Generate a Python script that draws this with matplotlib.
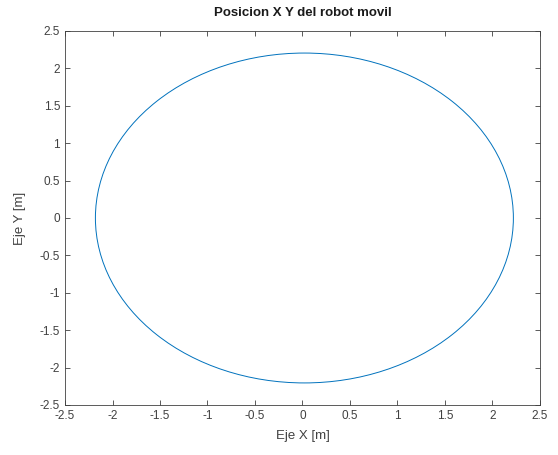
import numpy as np
import matplotlib
matplotlib.use("Agg")
import matplotlib.pyplot as plt
from matplotlib.patches import Ellipse

# trayectoria del robot (circulo)
centro_x = 0.02
centro_y = 0.0
ancho = 4.40   # diametro en X [m]
alto = 4.41    # diametro en Y [m]

ticks = [-2.5, -2, -1.5, -1, -0.5, 0, 0.5, 1, 1.5, 2, 2.5]
tick_labels = ["-2.5", "-2", "-1.5", "-1", "-0.5", "0", "0.5", "1", "1.5", "2", "2.5"]

plt.rcParams['font.family'] = ['Liberation Sans', 'DejaVu Sans']

fig = plt.figure(figsize=(5.58, 4.55), dpi=100)
ax = fig.add_axes([0.1165, 0.1099, 0.8512, 0.822])

traj = Ellipse((centro_x, centro_y), ancho, alto, fill=False,
               edgecolor='#0072BD', linewidth=0.7)
ax.add_patch(traj)

ax.set_xlim(-2.5, 2.5)
ax.set_ylim(-2.5, 2.5)
ax.set_xticks(ticks)
ax.set_xticklabels(tick_labels)
ax.set_yticks(ticks)
ax.set_yticklabels(tick_labels)

ax.tick_params(direction='in', top=True, right=True, length=3.5, width=0.6,
               colors='#404040', labelsize=8.5, labelcolor='#404040')
for s in ax.spines.values():
    s.set_color('#404040')
    s.set_linewidth(0.6)

ax.set_title("Posicion X Y del robot movil", fontsize=9.5, fontweight='bold',
             color='#1a1a1a', pad=11)
ax.set_xlabel("Eje X [m]", fontsize=9.5, color='#404040', labelpad=6)
ax.set_ylabel("Eje Y [m]", fontsize=9.5, color='#404040', labelpad=10)

plt.savefig("out.png", dpi=100)
